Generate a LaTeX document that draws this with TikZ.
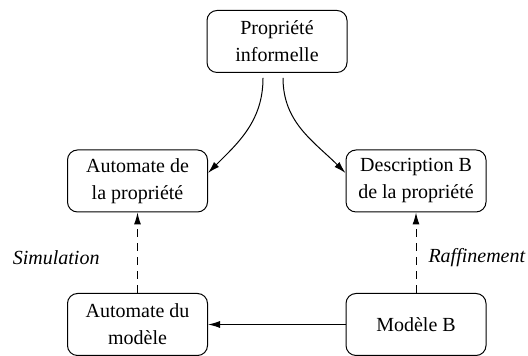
\documentclass[tikz,border=0pt]{standalone}
\usepackage{fontspec}
\setmainfont{Liberation Serif}
\usetikzlibrary{arrows.meta}
\tikzset{
  boite/.style={draw, rounded corners=5pt, minimum width=70pt, minimum height=31pt, align=center, inner sep=2pt},
  etiq/.style={font=\fontsize{10}{13.5}\selectfont\itshape, inner sep=0pt},
}
\begin{document}
\begin{tikzpicture}[x=0.5pt, y=0.5pt, line width=0.5pt, >={Latex[length=6pt,width=3.5pt]}, font=\fontsize{10}{13.5}\selectfont]
    \useasboundingbox (0,0) rectangle (528,356);
    \node[boite] (propinf) at (277,314.5) {Propriété\\informelle};
    \node[boite] (autoprop) at (137.5,175) {Automate de\\la propriété};
    \node[boite] (descb) at (416,175) {Description B\\de la propriété};
    \node[boite] (automod) at (137.5,31.5) {Automate du\\modèle};
    \node[boite] (modb) at (416,31.5) {Modèle B};
    \draw[->] ([xshift=-7pt,yshift=-2.5pt]propinf.south) to[out=-90,in=45] ([yshift=4pt]autoprop.east);
    \draw[->] ([xshift=3pt,yshift=-2.5pt]propinf.south) to[out=-90,in=135] ([yshift=4pt]descb.west);
    \draw[->, dash pattern=on 4pt off 3pt] (automod) -- (autoprop);
    \draw[->, dash pattern=on 4pt off 3pt] (modb) -- (descb);
    \draw[->] (modb) -- (automod);
    \node[etiq, anchor=east] (simul) at (100,98) {Simulation};
    \node[etiq, anchor=west] (raff) at (428,98) {Raffinement};
\end{tikzpicture}
\end{document}
